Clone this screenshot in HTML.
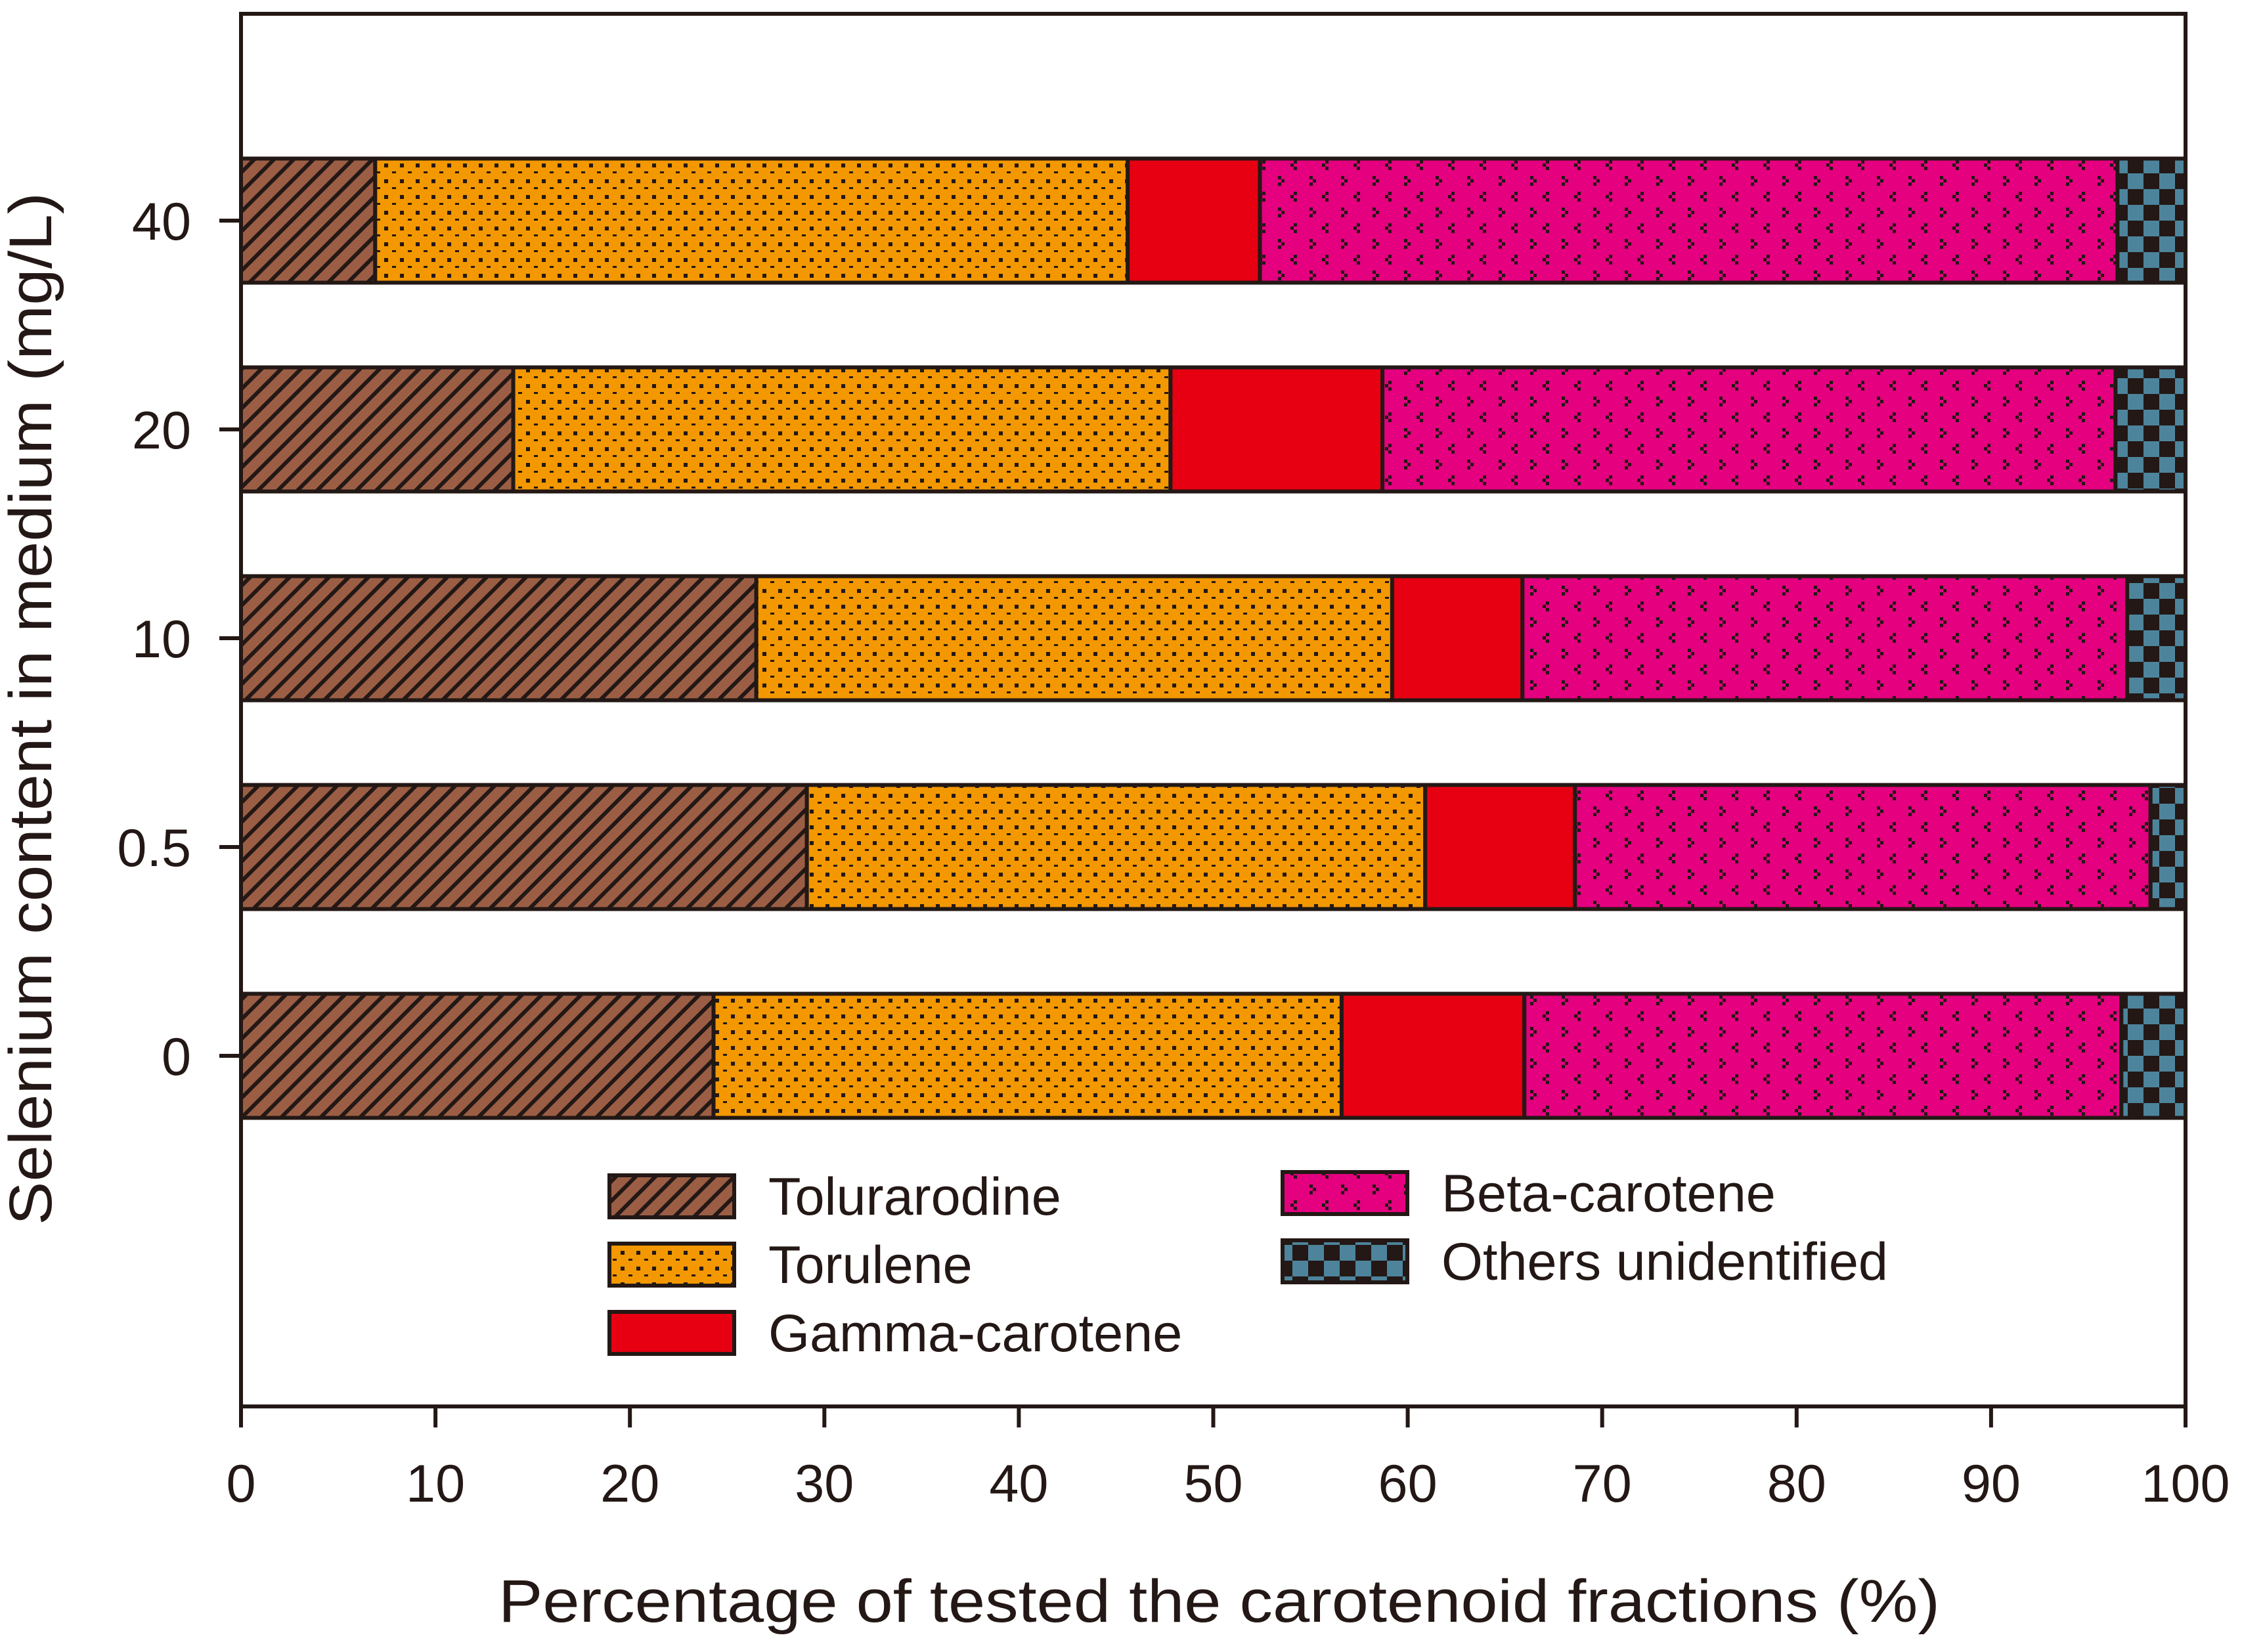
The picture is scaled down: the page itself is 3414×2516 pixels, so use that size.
<!DOCTYPE html>
<html><head><meta charset="utf-8"><style>html,body{margin:0;padding:0;background:#fff}svg{display:block}</style></head>
<body>
<svg id="chart" xmlns="http://www.w3.org/2000/svg" width="3414" height="2516" viewBox="0 0 3414 2516" font-family="Liberation Sans, Arial, sans-serif" fill="#231815">
<defs>
<pattern id="p-hatch" patternUnits="userSpaceOnUse" width="30" height="30">
<rect width="30" height="30" fill="#9b5e45"/>
<path d="M-7.5,7.5 L7.5,-7.5 M0,30 L30,0 M22.5,37.5 L37.5,22.5" stroke="#231815" stroke-width="6"/>
</pattern>
<pattern id="p-dots" patternUnits="userSpaceOnUse" width="24" height="24">
<rect width="24" height="24" fill="#f39800"/>
<rect x="9" y="9" width="6" height="6" fill="#231815"/>
<rect x="21" y="21" width="6" height="6" fill="#231815"/>
<rect x="-3" y="21" width="6" height="6" fill="#231815"/>
</pattern>
<pattern id="p-beta" patternUnits="userSpaceOnUse" width="48" height="48">
<rect width="48" height="48" fill="#e4007f"/>
<rect x="2" y="4" width="5" height="5" fill="#231815"/><rect x="-3" y="9" width="5" height="5" fill="#231815"/><rect x="2" y="14" width="5" height="5" fill="#231815"/>
<rect x="26" y="28" width="5" height="5" fill="#231815"/><rect x="31" y="33" width="5" height="5" fill="#231815"/><rect x="26" y="38" width="5" height="5" fill="#231815"/>
<rect x="50" y="9" width="5" height="5" fill="#231815"/><rect x="45" y="9" width="5" height="5" fill="#231815"/>
</pattern>
<pattern id="p-check" patternUnits="userSpaceOnUse" width="48" height="48">
<rect width="48" height="48" fill="#4d849c"/>
<rect x="24" y="0" width="24" height="24" fill="#231815"/>
<rect x="0" y="24" width="24" height="24" fill="#231815"/>
</pattern>
</defs>
<g id="bars"></g>
<rect x="367" y="21" width="2961" height="2121" fill="none" stroke="#231815" stroke-width="6"/>
<g id="axes"></g>
<g id="legend"></g>
<text x="759" y="2470" font-size="92" textLength="2195" lengthAdjust="spacingAndGlyphs">Percentage of tested the carotenoid fractions (%)</text>
<text transform="translate(78,1866) rotate(-90)" font-size="92" textLength="1573" lengthAdjust="spacingAndGlyphs">Selenium content in medium (mg/L)</text>
</svg>
<script>
const categories = ["40", "20", "10", "0.5", "0"];
const seriesNames = ["Tolurarodine", "Torulene", "Gamma-carotene", "Beta-carotene", "Others unidentified"];
const tolurarodine = [6.9, 14.0, 26.5, 29.1, 24.3];
const torulene = [38.7, 33.8, 32.7, 31.8, 32.3];
const gammaCarotene = [6.8, 10.9, 6.7, 7.7, 9.4];
const betaCarotene = [44.1, 37.7, 31.1, 29.6, 30.7];
const othersUnidentified = [3.5, 3.6, 3.0, 1.8, 3.3];
const xTicks = [0, 10, 20, 30, 40, 50, 60, 70, 80, 90, 100];

const NS = "http://www.w3.org/2000/svg";
const fills = ["url(#p-hatch)", "url(#p-dots)", "#e60012", "url(#p-beta)", "url(#p-check)"];
const series = [tolurarodine, torulene, gammaCarotene, betaCarotene, othersUnidentified];
const X0 = 367, X1 = 3328;
const xScale = v => X0 + (X1 - X0) * v / 100;
const yCenter = i => 336 + i * 318;
const barH = 189;
function mk(tag, attrs, parent) {
  const e = document.createElementNS(NS, tag);
  for (const k in attrs) e.setAttribute(k, attrs[k]);
  parent.appendChild(e);
  return e;
}
const gb = document.getElementById("bars");
categories.forEach((c, i) => {
  let acc = 0;
  series.forEach((s, j) => {
    const r = mk("rect", {x: xScale(acc), y: yCenter(i) - barH / 2, width: xScale(acc + s[i]) - xScale(acc), height: barH, fill: fills[j], stroke: "#231815", "stroke-width": 6}, gb);
    
    
    acc += s[i];
  });
});
const ga = document.getElementById("axes");
xTicks.forEach(t => {
  const l = mk("line", {x1: xScale(t), x2: xScale(t), y1: 2142, y2: 2174, stroke: "#231815", "stroke-width": 6}, ga);
  
  
  const tx = mk("text", {x: xScale(t), y: 2287, "font-size": 81, "text-anchor": "middle"}, ga);
  tx.textContent = t;
  
  
});
categories.forEach((c, i) => {
  const l = mk("line", {x1: 334, x2: 367, y1: yCenter(i), y2: yCenter(i), stroke: "#231815", "stroke-width": 6}, ga);
  
  
  const tx = mk("text", {x: 291, y: yCenter(i) + 29, "font-size": 81, "text-anchor": "end"}, ga);
  tx.textContent = c;
  
  
});
const gl = document.getElementById("legend");
const legendPos = [[928, 1790], [928, 1894], [928, 1998], [1953, 1785], [1953, 1889]];
seriesNames.forEach((n, j) => {
  const [lx, ly] = legendPos[j];
  const r = mk("rect", {x: lx, y: ly, width: 190, height: 64, fill: fills[j], stroke: "#231815", "stroke-width": 6}, gl);
  
  
  const tx = mk("text", {x: lx + 242, y: ly + 60, "font-size": 81}, gl);
  tx.textContent = n;
  
  
});
</script>
</body></html>
